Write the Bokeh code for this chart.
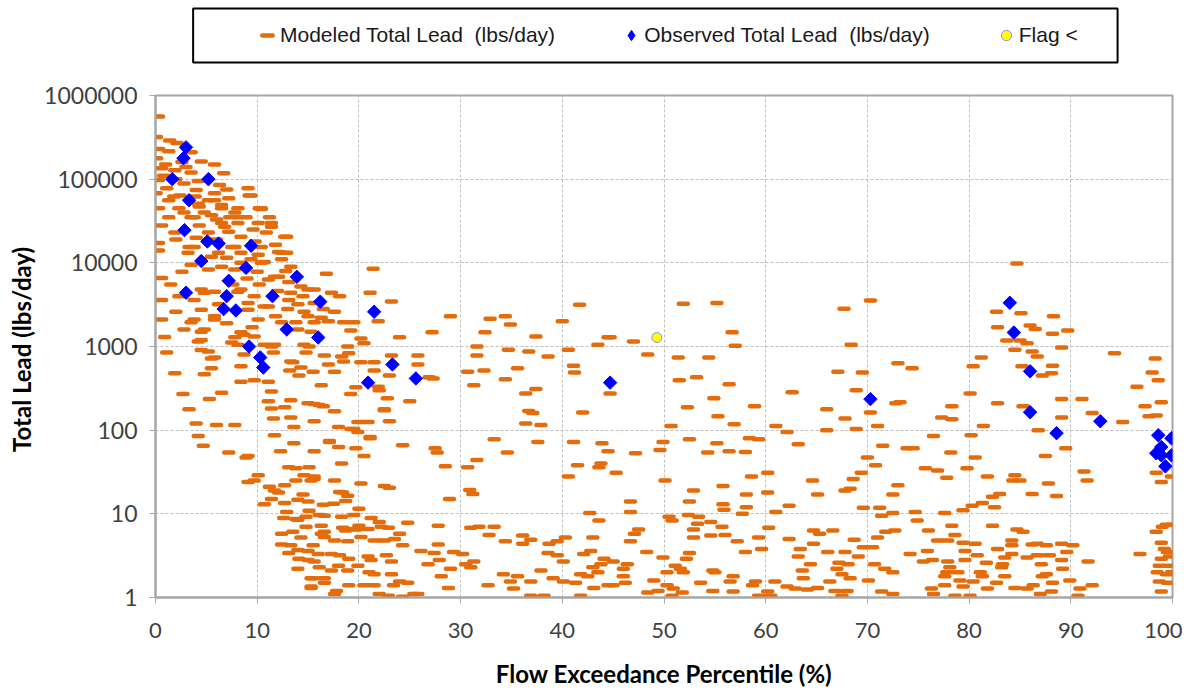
import math
from bokeh.plotting import figure
from bokeh.models import Range1d, FixedTicker, Legend, LegendItem
from bokeh.layouts import column
from bokeh.embed import file_html
from bokeh.resources import INLINE

# ---------------- data ----------------
x_ticks = [0, 10, 20, 30, 40, 50, 60, 70, 80, 90, 100]
y_ticks = [1, 10, 100, 1000, 10000, 100000, 1000000]
y_tick_labels = ["1", "10", "100", "1000", "10000", "100000", "1000000"]

series_names = ["Modeled Total Lead  (lbs/day)", "Observed Total Lead  (lbs/day)", "Flag <"]

# Modeled Total Lead (lbs/day): (flow exceedance %, load) pairs, grouped by region
modeled_high_flow = [
    (0.3, 560000), (0.1, 320000), (1.4, 290000), (0.3, 230000), (1.3, 215000), (3.5, 210000), (2.1, 270000),
    (0.1, 178000), (2.6, 160000), (4.5, 163000), (5.8, 150000), (0.6, 135000), (1.9, 128000), (3.5, 120000),
    (6.7, 118000), (0.3, 98000), (2.8, 89000), (6.3, 85000), (1.1, 78000), (4.0, 74000), (9.1, 78000),
    (0.05, 68000), (2.4, 64000), (5.8, 68000), (9.4, 64000), (1.3, 56000), (5.2, 56000), (7.2, 59000),
    (0.3, 45000), (2.3, 45000), (4.3, 47000), (6.5, 49000), (8.1, 45000), (10.2, 45000), (1.3, 35000),
    (3.5, 35000), (5.5, 37000), (7.3, 35000), (8.9, 35000), (0.6, 28000), (4.3, 28000), (6.5, 30000),
    (8.1, 30000), (10.1, 30000), (1.9, 23000), (5.2, 23000), (7.2, 23500), (8.4, 20500), (10.9, 23000),
    (0.3, 17300), (3.8, 15500), (7.5, 15500), (0.3, 14000), (3.2, 13200), (6.2, 13200), (8.4, 13200),
    (10.1, 12500), (10.4, 45000), (11.2, 35000), (12.9, 20500), (11.4, 27000), (12.4, 13200), (10.4, 10000),
    (8.4, 10000), (5.2, 8300), (2.6, 7800), (0.6, 6600), (11.7, 6800), (13.1, 5900), (15.0, 4800),
    (10.2, 5500), (8.4, 4800), (5.8, 4500), (4.5, 4800), (2.3, 4000), (0.6, 3600), (15.6, 3300),
    (13.1, 3600), (11.1, 3000), (9.1, 3300), (4.5, 2750), (14.6, 2600), (0.6, 2100), (3.8, 2100),
    (5.8, 2100), (10.1, 2100), (12.4, 1950), (0.9, 1300), (2.8, 1600), (4.8, 1600), (8.4, 1480),
    (14.0, 1600), (15.6, 1950), (9.2, 64000), (10.4, 44000), (11.4, 30000), (12.7, 20500), (12.1, 13500),
    (12.9, 13200), (12.4, 11000), (10.7, 10200), (13.3, 9000), (12.1, 6800), (11.1, 6300), (13.3, 4400),
    (14.0, 3200), (10.7, 3000), (9.1, 2750), (15.0, 2300), (13.8, 1950), (15.3, 1500), (14.6, 1050),
    (11.4, 1000), (13.3, 660), (7.5, 1120), (5.2, 870), (4.5, 1200), (3.5, 1950), (5.8, 2300),
    (4.5, 1500), (8.7, 1380), (5.8, 740), (8.4, 580), (3.8, 3600), (4.8, 4400), (8.1, 4500), (9.7, 4000),
    (7.8, 15500), (6.8, 27000), (8.1, 35000), (6.5, 45000), (5.8, 56000), (4.2, 51000), (3.8, 35000),
    (3.3, 15500), (5.5, 11800), (7.8, 8300), (9.4, 11000), (10.4, 15500), (1.0, 150000), (3.0, 140000),
    (4.2, 95000), (2.0, 100000), (0.8, 110000), (3.9, 62000), (7.0, 75000), (1.8, 62000), (2.8, 40000),
    (4.8, 40000), (6.0, 33000), (7.8, 40000), (9.6, 25000), (2.0, 19000), (4.0, 20000), (6.0, 19000),
    (7.0, 11500), (9.8, 18000), (11.8, 16500), (3.5, 9500), (6.5, 9000), (9.0, 6500), (1.5, 5500),
    (10.0, 7800), (12.8, 8000), (14.3, 5200), (6.2, 3200), (7.6, 5500), (2.0, 2600), (12.0, 4600),
    (14.5, 4000), (16.5, 2800), (13.0, 2800), (11.8, 2300), (7.0, 1900), (9.5, 1700),
]

modeled_high_flow_low_load = [
    (1.1, 850), (4.2, 1150), (4.5, 910), (5.5, 720), (5.5, 550), (4.8, 465), (1.9, 480), (8.1, 1050),
    (7.8, 1290), (8.7, 800), (9.7, 1320), (10.7, 1050), (8.4, 380), (9.7, 395), (11.1, 380), (11.4, 290),
    (11.7, 1050), (11.6, 850), (13.5, 650), (14.3, 560), (13.2, 515), (15.5, 500), (14.1, 450), (14.8, 850),
    (15.1, 1000), (6.5, 280), (2.7, 270), (5.3, 235), (3.3, 178), (11.1, 222), (11.4, 182), (12.7, 188),
    (13.3, 228), (15.0, 210), (11.6, 138), (13.3, 142), (15.6, 128), (4.0, 120), (6.0, 115), (7.8, 115),
    (13.6, 109), (4.2, 85), (4.7, 65), (11.7, 87), (12.3, 56), (13.6, 70), (15.6, 56), (7.2, 54),
    (9.1, 49), (8.9, 47), (13.1, 36), (13.8, 35), (15.1, 36), (10.1, 29), (9.7, 25), (9.1, 24),
    (11.2, 21), (12.1, 18), (12.7, 22), (13.8, 25), (14.5, 17), (15.0, 14), (10.7, 13), (11.4, 15),
    (12.7, 13.5), (14.0, 14.7), (12.9, 10.5), (12.6, 8.9), (14.0, 8.5), (14.8, 7.0), (12.4, 5.8),
    (13.5, 6.1), (14.3, 5.2), (13.3, 4.2), (12.4, 4.3), (14.0, 3.7), (13.1, 3.4), (15.0, 3.6),
    (14.1, 2.9), (15.0, 2.8), (14.0, 2.2), (15.3, 1.7), (15.3, 1.35),
]

modeled_moist_low = [
    (16.1, 200), (17.6, 168), (18.0, 109), (19.9, 125), (20.9, 125), (22.5, 178), (23.0, 128), (19.5, 103),
    (19.9, 95), (17.1, 72), (18.0, 63), (19.7, 61), (21.1, 83), (24.3, 66), (20.5, 49), (18.3, 40),
    (14.6, 29), (15.6, 28), (15.3, 25), (17.6, 25), (20.2, 23), (22.5, 21.5), (23.0, 20.5), (11.7, 19),
    (18.4, 18), (18.9, 16.4), (18.7, 14.2), (16.5, 12.8), (17.5, 13.2), (20.0, 11.5), (15.1, 10.9),
    (16.1, 9.7), (13.8, 8.7), (14.8, 9.2), (16.6, 9.5), (18.3, 9.2), (19.5, 9.7), (21.2, 8.9), (22.0, 8.0),
    (24.8, 7.8), (16.3, 7.2), (18.4, 6.8), (19.0, 6.6), (19.7, 6.5), (20.9, 6.6), (22.2, 7.0), (22.9, 6.8),
    (24.0, 5.8), (16.3, 5.8), (16.6, 5.3), (17.6, 4.8), (18.9, 4.7), (20.2, 5.3), (21.5, 4.8), (22.5, 4.8),
    (23.5, 5.0), (24.3, 4.2), (15.5, 4.2), (16.0, 3.3), (17.3, 3.3), (18.1, 3.2), (19.0, 2.9), (20.9, 3.1),
    (21.2, 2.8), (22.7, 3.2), (23.2, 2.7), (15.6, 2.7), (16.1, 2.3), (17.3, 2.1), (18.0, 2.4), (18.9, 2.1),
    (19.9, 2.4), (21.0, 2.0), (21.5, 1.9), (23.2, 1.9), (15.5, 1.7), (16.6, 1.7), (16.6, 1.5), (15.3, 1.3),
    (17.8, 1.2), (17.6, 1.1), (19.0, 1.4), (20.5, 1.4), (21.5, 1.4), (23.4, 1.4), (24.8, 1.5), (22.0, 1.1),
    (22.9, 1.05), (25.4, 1.1), (24.3, 1.02),
]

modeled_moist_mid = [
    (16.8, 7400), (21.4, 8500), (21.1, 4400), (23.2, 3450), (21.9, 2000), (24.0, 1290), (27.2, 1480),
    (29.0, 2300), (32.9, 2150), (34.4, 2300), (34.9, 1830), (32.4, 1480), (31.6, 1000), (31.6, 780),
    (34.7, 915), (36.7, 870), (38.6, 760), (35.6, 550), (32.3, 515), (30.7, 500), (34.4, 405), (31.3, 345),
    (37.4, 310), (36.4, 275), (36.7, 170), (37.1, 160), (36.4, 120), (37.9, 115), (40.0, 2000), (41.7, 3160),
    (40.6, 915), (41.1, 590), (41.2, 490), (42.0, 163), (43.5, 1050), (44.5, 1290), (37.4, 1320),
    (25.8, 780), (25.8, 610), (26.9, 430), (27.3, 415), (23.2, 780), (23.0, 450), (21.9, 330), (22.8, 240),
    (25.0, 222), (22.5, 173), (21.1, 80), (27.5, 61), (27.7, 54), (28.5, 37), (31.6, 44), (30.7, 36),
    (28.9, 15), (30.9, 19.3), (31.2, 17.3), (33.3, 78), (34.6, 54), (37.6, 72), (41.1, 72), (41.5, 38),
    (40.6, 28), (43.9, 70), (43.8, 40), (43.6, 36), (44.5, 56), (42.7, 10.2), (43.6, 8.3),
    (15.6, 4800), (17.3, 4400), (18.1, 4000), (17.6, 2600), (16.3, 2200), (17.0, 2000), (18.5, 1950),
    (19.5, 1950), (19.2, 1550), (20.2, 1250), (20.5, 1090), (18.9, 1000), (16.6, 780), (18.3, 760),
    (19.0, 830), (17.0, 610), (18.5, 660), (20.2, 650), (21.5, 650), (17.6, 500), (21.5, 515), (16.3, 345),
    (19.7, 325), (19.2, 270), (22.0, 300), (15.6, 205), (16.5, 193), (19.2, 103), (17.1, 74), (15.6, 26),
    (18.1, 18.2), (16.6, 6.1), (18.7, 6.3), (20.0, 7.2),
]

modeled_mid_low = [
    (31.0, 6.8), (31.8, 7.0), (33.3, 7.0), (32.8, 5.6), (34.4, 4.7), (36.1, 5.5), (36.9, 4.9), (36.1, 4.4),
    (38.7, 4.4), (39.5, 4.7), (40.3, 5.2), (43.0, 5.2), (38.6, 3.4), (39.5, 3.2), (40.1, 2.7), (42.1, 3.3),
    (42.8, 3.6), (44.1, 2.9), (43.8, 2.5), (43.0, 2.3), (41.8, 1.9), (42.5, 1.8), (43.5, 2.0), (37.9, 2.1),
    (39.1, 1.7), (40.1, 1.55), (41.3, 1.5), (34.2, 1.9), (35.6, 1.8), (34.9, 1.55), (36.9, 1.55),
    (35.2, 1.28), (32.7, 1.4), (36.9, 1.05), (38.2, 1.05), (41.8, 1.05), (43.1, 1.3), (44.5, 1.4),
    (26.1, 3.6), (27.4, 3.4), (27.8, 4.3), (29.3, 3.5), (30.2, 3.3), (27.9, 2.8), (29.0, 2.2), (30.5, 2.5),
    (31.3, 2.7), (31.0, 2.3), (28.1, 1.8), (28.8, 1.3), (25.8, 1.1), (27.8, 7.2), (26.8, 2.5), (24.0, 1.55),
]

modeled_dry = [
    (44.7, 1290), (47.0, 1150), (48.4, 800), (51.9, 3240), (55.2, 3300), (56.7, 1480), (57.0, 1020),
    (51.4, 740), (54.4, 740), (51.5, 395), (53.2, 430), (56.4, 355), (44.7, 275), (62.6, 283), (54.9, 240),
    (58.9, 193), (52.3, 188), (55.3, 147), (56.9, 118), (50.7, 112), (61.0, 112), (62.1, 95), (63.2, 68),
    (67.7, 2830), (70.3, 3540), (68.4, 1050), (67.1, 500), (69.5, 490), (68.9, 300), (73.0, 630),
    (66.0, 178), (67.8, 138), (70.3, 163), (68.9, 103), (66.0, 100), (71.0, 112), (72.8, 210), (71.5, 65),
    (70.0, 47), (70.8, 38), (69.4, 31), (68.6, 26), (68.3, 20), (73.0, 22), (72.5, 17), (67.8, 19),
    (65.1, 17), (64.6, 25), (47.2, 53), (49.9, 72), (49.6, 58), (52.5, 78), (55.2, 70), (54.3, 54),
    (56.4, 56), (58.0, 55), (58.4, 80), (59.3, 78), (45.3, 31), (50.1, 25), (58.6, 28), (60.2, 31),
    (52.9, 19), (58.1, 17), (60.2, 18), (46.7, 14), (46.7, 10.5), (52.5, 14), (55.8, 21.5), (55.8, 13),
    (55.9, 11.2), (58.1, 12), (57.7, 10), (62.3, 12.5), (61.0, 10.5), (60.3, 6.8), (69.6, 11.8),
    (71.2, 11.8), (71.4, 9.5), (72.5, 10.2), (64.7, 6.3), (66.6, 6.3), (65.3, 5.8), (71.8, 6.1),
    (50.5, 9.2), (50.8, 8.3), (53.4, 9.2), (53.3, 7.6), (54.6, 8.0), (52.4, 9.7), (55.7, 7.0), (47.1, 5.8),
    (47.5, 6.5), (52.9, 6.5), (52.9, 5.2), (54.6, 5.5), (56.0, 5.6), (59.3, 5.2), (57.2, 4.7), (62.3, 5.0),
    (64.7, 4.4), (68.7, 4.9), (71.0, 5.2), (46.7, 4.7), (48.3, 3.5), (52.5, 3.4), (58.0, 3.5), (59.6, 3.8),
    (63.4, 3.8), (66.1, 3.5), (67.8, 3.5), (69.6, 4.0), (70.5, 4.0), (69.1, 3.1), (63.2, 3.1), (52.2, 2.9),
    (49.9, 3.0), (45.0, 2.7), (46.4, 2.5), (51.1, 2.4), (64.4, 2.5), (67.2, 2.6), (68.1, 2.5), (70.7, 2.5),
    (71.7, 2.2), (72.5, 2.0), (46.0, 2.2), (50.3, 2.0), (51.6, 2.2), (51.9, 2.0), (54.8, 2.1), (55.0, 2.0),
    (63.6, 2.1), (67.0, 2.2), (67.5, 1.9), (46.0, 1.8), (46.2, 1.5), (45.0, 1.4), (56.8, 1.8), (56.5, 1.55),
    (63.7, 1.7), (68.3, 1.7), (70.1, 1.6), (49.0, 1.6), (53.6, 1.5), (59.0, 1.55), (60.9, 1.55),
    (66.3, 1.55), (50.3, 1.4), (50.9, 1.28), (49.4, 1.2), (48.4, 1.15), (51.8, 1.15), (54.8, 1.2),
    (56.8, 1.18), (58.7, 1.4), (62.1, 1.35), (62.9, 1.28), (64.1, 1.25), (65.1, 1.3), (66.8, 1.2),
    (68.0, 1.2), (67.5, 1.05), (71.4, 1.18), (72.5, 1.1), (59.3, 1.05), (60.5, 1.05), (60.2, 1.18),
    (50.8, 1.05),
]

modeled_low_flow = [
    (84.7, 9800), (82.7, 2600), (85.1, 2500), (88.3, 2300), (82.8, 1700), (86.0, 1780), (86.5, 1620),
    (89.7, 1550), (88.2, 1420), (83.7, 1180), (85.0, 1180), (85.7, 1090), (84.5, 915), (86.2, 870),
    (89.1, 975), (86.7, 760), (81.2, 740), (80.4, 580), (85.2, 580), (88.2, 590), (88.1, 480), (87.2, 450),
    (94.3, 830), (98.3, 720), (98.0, 490), (98.6, 395), (96.5, 330), (97.3, 193), (98.9, 215), (97.7, 147),
    (98.4, 150), (95.1, 125), (92.1, 160), (91.1, 235), (89.1, 235), (89.1, 142), (85.3, 193), (82.8, 210),
    (80.1, 275), (86.8, 100), (89.5, 61), (87.5, 49), (91.3, 32), (91.6, 25), (87.8, 23), (88.6, 16.3),
    (86.2, 17.3), (98.4, 31), (98.9, 24), (99.9, 28), (84.5, 29), (84.3, 25), (85.0, 25), (81.8, 28),
    (80.6, 47), (79.8, 35), (80.2, 87), (81.4, 112), (78.3, 193), (77.3, 142), (78.3, 135), (76.5, 85),
    (78.2, 54), (75.7, 35), (76.9, 33), (77.8, 27), (73.9, 61), (74.5, 61), (73.2, 215), (74.4, 550),
    (82.3, 16), (82.5, 12), (83.0, 17.3), (81.3, 13.5), (80.3, 12.5), (79.4, 11), (77.6, 10.2), (74.7, 10.5),
    (74.9, 8.3), (76.0, 6.3), (78.3, 7.2), (78.6, 5.6), (82.3, 7.2), (84.7, 6.5), (85.3, 6.1), (72.7, 6.3),
    (76.9, 4.8), (77.9, 4.8), (79.4, 4.5), (80.6, 4.4), (84.2, 4.8), (84.2, 4.2), (86.2, 4.3), (86.7, 4.4),
    (87.6, 4.2), (89.1, 4.4), (90.2, 4.2), (89.6, 3.5), (74.2, 3.3), (75.9, 3.6), (79.6, 3.6), (82.8, 3.8),
    (84.2, 3.3), (86.7, 3.2), (87.9, 3.2), (80.8, 3.2), (83.5, 3.0), (85.7, 3.0), (89.1, 2.8), (91.7, 2.7),
    (96.8, 3.3), (75.5, 2.7), (76.4, 2.8), (77.9, 2.7), (79.6, 2.8), (81.7, 2.6), (83.3, 2.5), (87.1, 2.5),
    (89.2, 2.2), (78.1, 2.3), (77.8, 2.0), (78.9, 2.0), (81.1, 2.0), (83.2, 2.3), (83.5, 1.8), (81.3, 1.8),
    (77.6, 1.8), (87.2, 1.8), (87.6, 1.9), (88.2, 1.5), (89.9, 1.6), (79.1, 1.6), (80.4, 1.55), (82.7, 1.5),
    (86.3, 1.4), (92.1, 1.4), (90.9, 1.28), (76.3, 1.28), (77.6, 1.4), (79.4, 1.35), (81.8, 1.28),
    (84.5, 1.3), (85.7, 1.28), (87.0, 1.1), (88.1, 1.18), (78.6, 1.05), (80.1, 1.05), (90.7, 1.05),
    (76.5, 1.1), (99.4, 7.4), (99.9, 7.4), (99.0, 7.0), (98.4, 6.1), (98.9, 4.5), (99.2, 3.8), (99.5, 3.5),
    (98.9, 2.9), (99.7, 3.1), (98.7, 2.4), (99.7, 2.4), (98.5, 2.0), (99.4, 1.9), (99.9, 2.0), (98.7, 1.55),
    (99.5, 1.5), (98.9, 1.18),
]

# Observed Total Lead (lbs/day)
obs_x = [1.65, 2.75, 3.0, 3.3, 2.85, 3.0, 5.2, 5.1, 4.5, 6.2, 7.2, 7.0, 6.7, 7.9, 8.9, 9.4, 9.2, 10.3,
         10.6, 11.5, 12.9, 13.9, 16.0, 16.2, 20.9, 21.5, 23.3, 25.6, 44.7, 70.3, 84.0, 84.4, 86.0, 86.0,
         88.6, 92.9, 98.6, 99.9, 98.9, 98.4, 98.9, 99.9, 99.3]
obs_y = [100000, 178000, 240000, 56000, 24600, 4400, 100000, 18000, 10500, 17000, 6100, 4000, 2800, 2700,
         8700, 16000, 1000, 740, 560, 4000, 1600, 6800, 1280, 3430, 370, 2600, 610, 415, 370, 235, 3330,
         1470, 505, 164, 92, 128, 87, 80, 63, 53, 50, 50, 37]

# Flag <
flag_x = [49.3]
flag_y = [1280]

# ---------------- styles / layout constants ----------------
ORANGE = "#E46C0A"
BLUE = "#0000FF"
YELLOW = "#FFFF00"
GRID = "#BFBFBF"
AXIS = "#A6A6A6"
FIG_W = 1182
BORDER_L, BORDER_R = 155, 10

modeled_groups = [modeled_high_flow, modeled_high_flow_low_load, modeled_moist_low,
                  modeled_moist_mid, modeled_mid_low, modeled_dry, modeled_low_flow]
mod_x = [pt[0] for g in modeled_groups for pt in g]
mod_y = [pt[1] for g in modeled_groups for pt in g]

mod_style = dict(marker="dash", size=9, line_color=ORANGE, line_width=4.5, line_cap="round")
obs_style = dict(marker="square", angle=math.pi / 4, size=9.5, fill_color=BLUE, line_color=BLUE)
flag_style = dict(marker="circle", size=10, fill_color=YELLOW, line_color="#8C8CFF", line_width=1)

# ---------------- main chart ----------------
p = figure(width=FIG_W, height=624, y_axis_type="log",
           x_range=Range1d(x_ticks[0], x_ticks[-1]), y_range=Range1d(y_ticks[0], y_ticks[-1]),
           output_backend="svg", toolbar_location=None,
           min_border_left=BORDER_L, min_border_right=BORDER_R, min_border_top=29, min_border_bottom=91)
p.background_fill_color = "white"
p.border_fill_color = "white"
p.outline_line_color = AXIS
p.outline_line_width = 2

p.scatter(mod_x, mod_y, **mod_style)
p.scatter(obs_x, obs_y, **obs_style)
p.scatter(flag_x, flag_y, **flag_style)

p.xaxis.ticker = FixedTicker(ticks=x_ticks, minor_ticks=[])
p.yaxis.ticker = FixedTicker(ticks=y_ticks, minor_ticks=[])
p.yaxis.major_label_overrides = {t: l for t, l in zip(y_ticks, y_tick_labels)}

for ax in (p.xaxis, p.yaxis):
    ax.axis_line_color = AXIS
    ax.axis_line_width = 2
    ax.major_tick_line_color = AXIS
    ax.major_tick_line_width = 1
    ax.major_tick_out = 6
    ax.major_tick_in = 0
    ax.minor_tick_line_color = None
    ax.major_label_text_font = "Lato"
    ax.major_label_text_color = "#404040"
    ax.axis_label_text_font = "Lato"
    ax.axis_label_text_font_style = "bold"
    ax.axis_label_text_font_size = "24px"
    ax.axis_label_text_color = "black"

p.xaxis.major_label_text_font_size = "22px"
p.yaxis.major_label_text_font_size = "23px"
p.xaxis.major_label_standoff = 19
p.yaxis.major_label_standoff = 12
p.xaxis.axis_label = "Flow Exceedance Percentile (%)"
p.yaxis.axis_label = "Total Lead  (lbs/day)"
p.xaxis.axis_label_standoff = 18
p.yaxis.axis_label_standoff = 5

for g in (p.xgrid, p.ygrid):
    g.grid_line_color = GRID
    g.grid_line_dash = "3 2"
    g.grid_line_width = 1

# ---------------- legend panel (same frame width as the chart) ----------------
leg = figure(width=FIG_W, height=66, x_range=Range1d(x_ticks[0], x_ticks[-1]), y_range=Range1d(0, 1),
             x_axis_location=None, y_axis_location=None,
             output_backend="svg", toolbar_location=None,
             min_border_left=BORDER_L, min_border_right=BORDER_R, min_border_top=6, min_border_bottom=2)
leg.grid.visible = False
leg.outline_line_color = None
leg.background_fill_color = "white"
leg.border_fill_color = "white"

# legend box outline
leg.quad(left=[3.7], right=[94.6], bottom=[0.0345], top=[0.9655],
         fill_color=None, line_color="black", line_width=2)

# legend sample renderers: first value of each series, which lies outside this panel's y-range
lr1 = leg.scatter(mod_x[:1], mod_y[:1], **mod_style)
lr2 = leg.scatter(obs_x[:1], obs_y[:1], marker="diamond", size=9.5, fill_color=BLUE, line_color=BLUE)
lr3 = leg.scatter(flag_x[:1], flag_y[:1], **flag_style)

legend = Legend(items=[LegendItem(label=series_names[0], renderers=[lr1]),
                       LegendItem(label=series_names[1], renderers=[lr2]),
                       LegendItem(label=series_names[2], renderers=[lr3])],
                orientation="horizontal", location=(85, 2), padding=14, spacing=63,
                glyph_width=26, glyph_height=26, label_standoff=0,
                label_text_font="Liberation Sans", label_text_font_size="21px",
                label_text_color="#1a1a1a",
                border_line_alpha=0, background_fill_alpha=0, margin=0)
leg.add_layout(legend)

layout = column(leg, p, spacing=0)
open("out.html", "w").write(file_html(layout, INLINE))
